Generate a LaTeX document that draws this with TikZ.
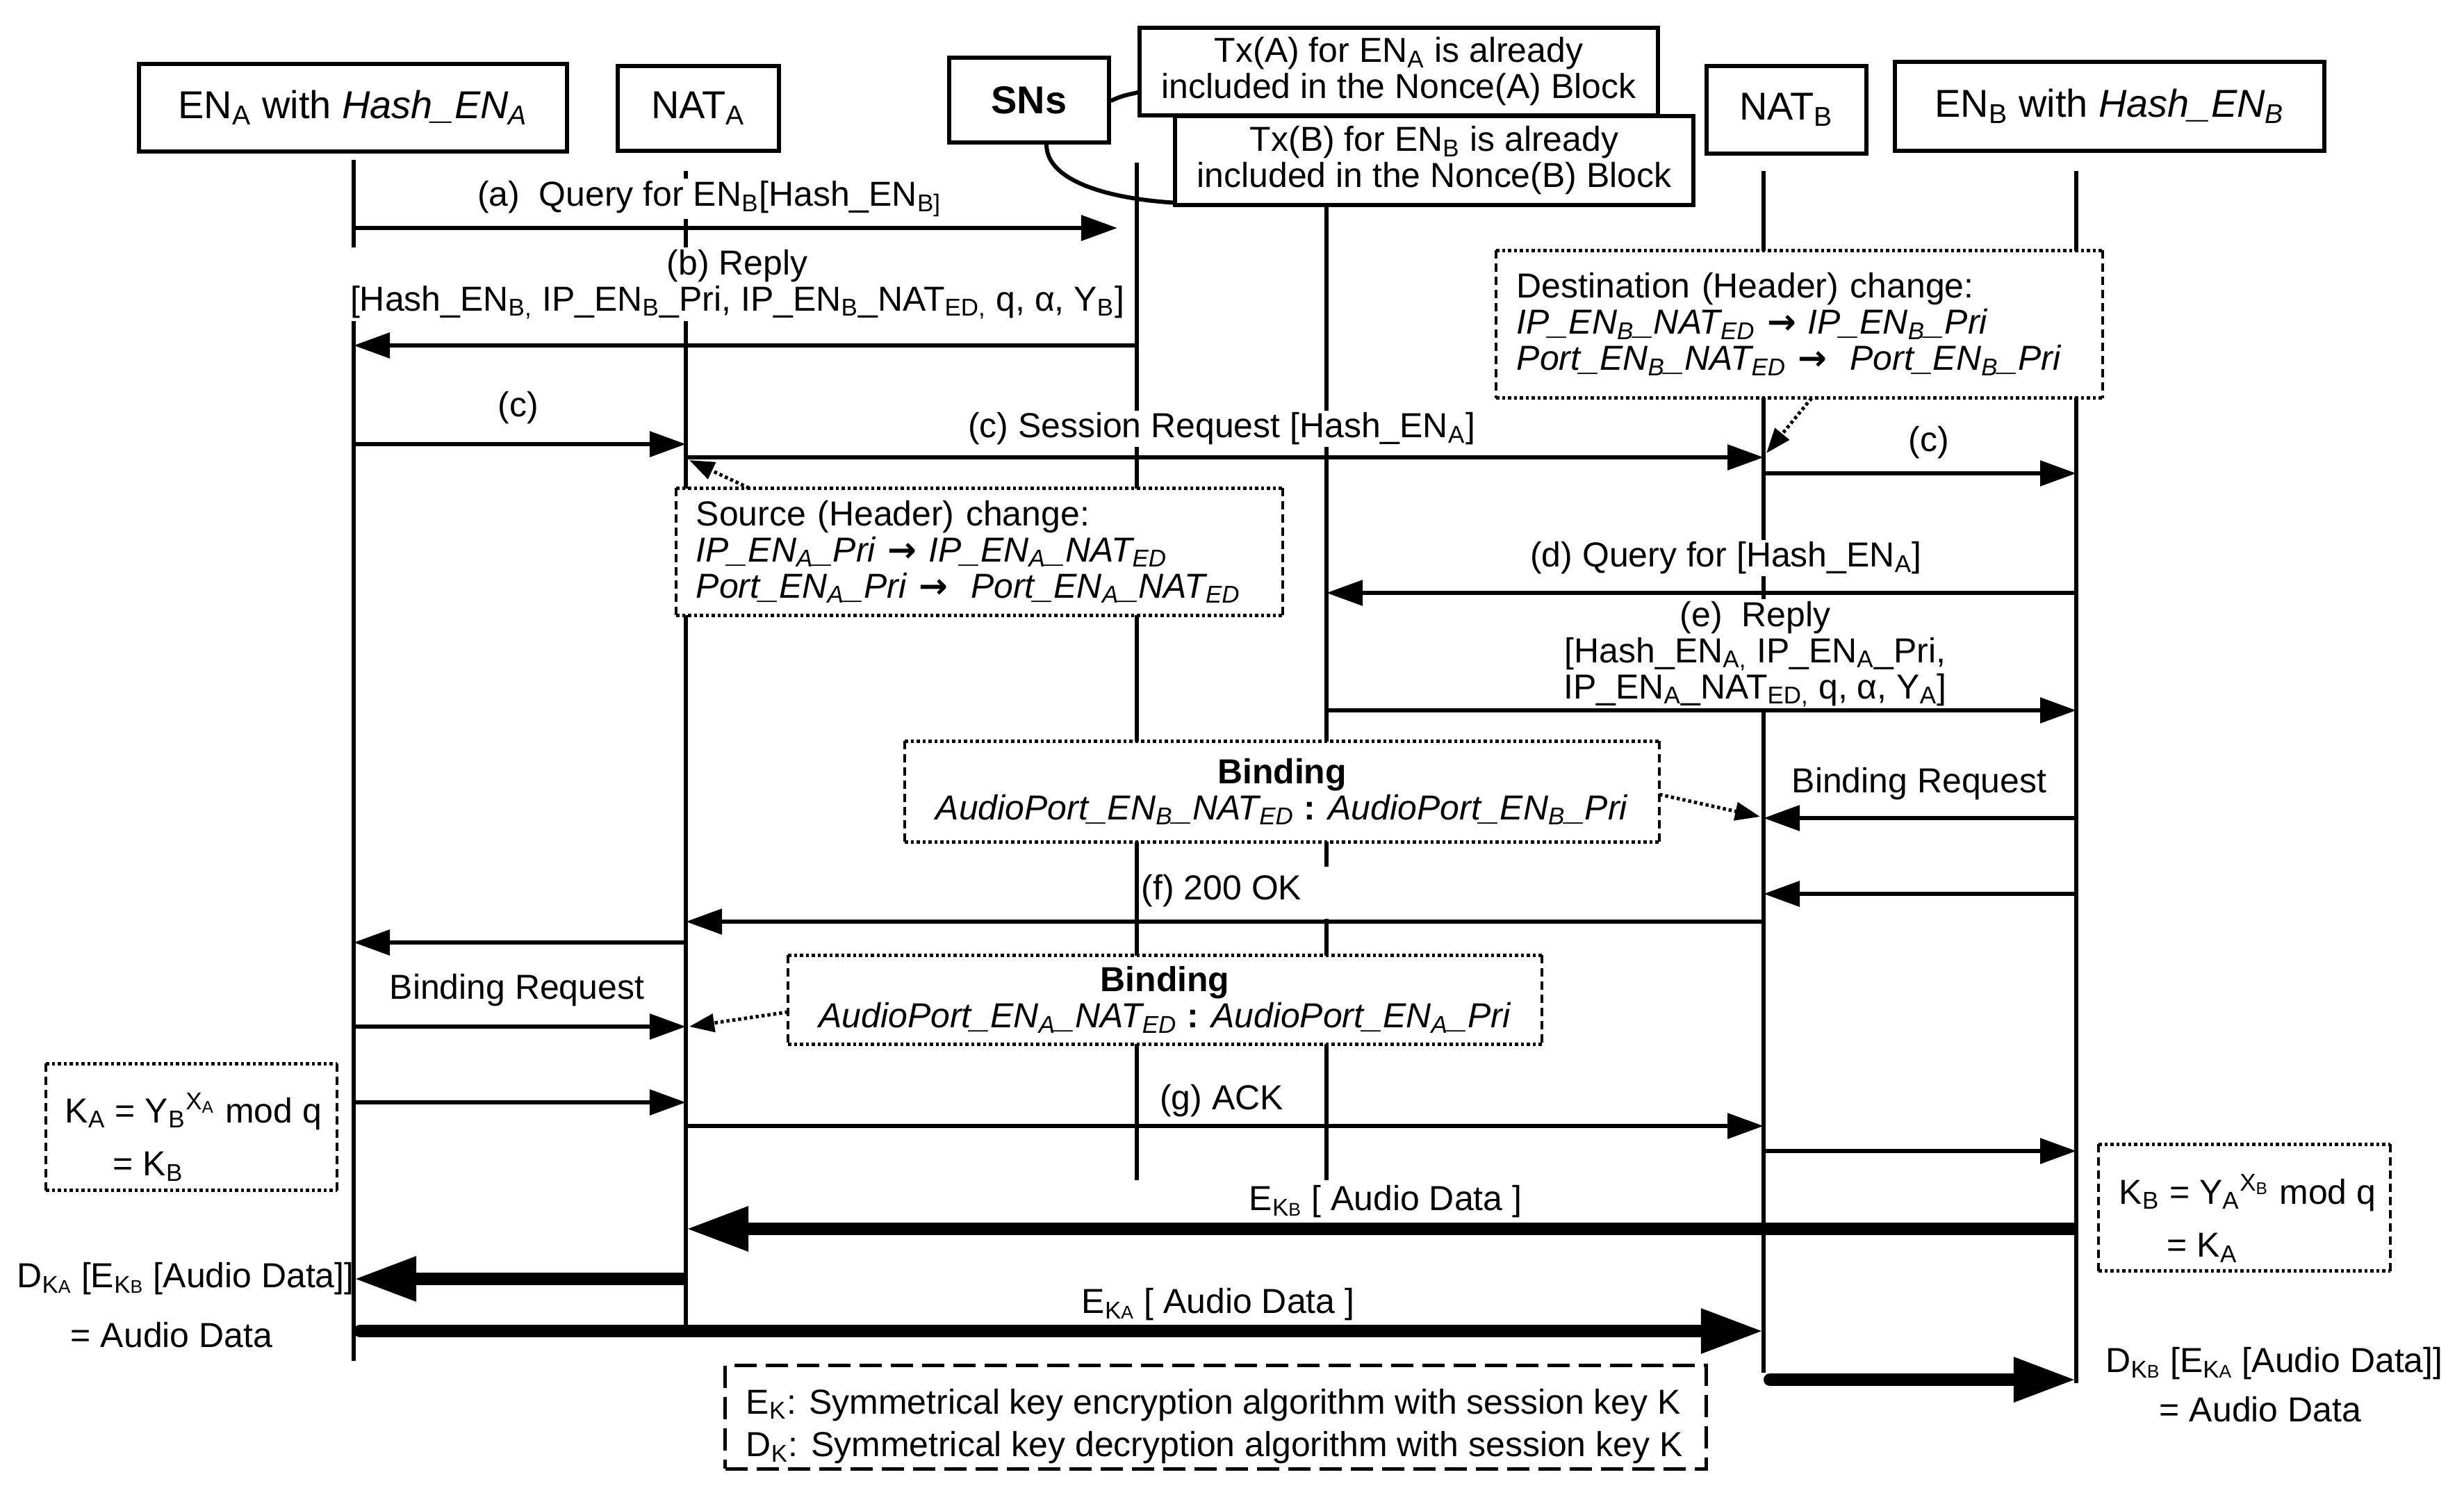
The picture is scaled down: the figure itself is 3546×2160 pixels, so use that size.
\documentclass[tikz,border=0pt]{standalone}
\usepackage{fontspec}
\setmainfont{Liberation Sans}
\newfontfamily\djv{DejaVu Sans}
\usetikzlibrary{arrows.meta,calc}
\newcommand\sbs[1]{\textsubscript{#1}}
\newcommand\sps[1]{\textsuperscript{#1}}
\newcommand\KK[1]{\textsubscript{K{\fontsize{7.5}{7.5}\selectfont #1}}}
\newcommand\rar{{\upshape\djv\bfseries →}}
\newcommand\mixbox[1]{%
  \draw[dotl] (#1.north west) -- (#1.north east) (#1.south west) -- (#1.south east);
  \draw[dashl] (#1.north west) -- (#1.south west) (#1.north east) -- (#1.south east);}
\begin{document}
\begin{tikzpicture}[x=0.01cm,y=-0.01cm,
  every node/.style={font=\fontsize{14.2}{14.8}\selectfont},
  hbox/.style={draw, line width=0.06cm, inner sep=0pt, fill=white, font=\fontsize{15.9}{17}\selectfont},
  tbox/.style={draw, line width=0.06cm, inner sep=0pt, fill=white, align=center},
  mbox/.style={fill=white, inner sep=0pt},
  lab/.style={fill=white, inner sep=0.03cm, align=center},
  txt/.style={inner sep=0pt},
  life/.style={line width=0.06cm},
  arr/.style={line width=0.06cm, -{Triangle[length=0.52cm,width=0.36cm]}},
  thk/.style={line width=0.18cm, -{Triangle[length=0.9cm,width=0.6cm]}},
  dota/.style={line width=0.05cm, dash pattern=on 0.045cm off 0.04cm, -{Triangle[length=0.36cm,width=0.26cm]}},
  dotl/.style={line width=0.05cm, dash pattern=on 0.045cm off 0.04cm},
  dashl/.style={line width=0.04cm, dash pattern=on 0.12cm off 0.07cm},
  legl/.style={line width=0.05cm, dash pattern=on 0.32cm off 0.13cm}]
\useasboundingbox (0,0) rectangle (3546,2160);

% lifeline coordinates
\coordinate (LA) at (509,230);  \coordinate (LAe) at (509,1958);
\coordinate (LN) at (987,246);  \coordinate (LNe) at (987,1908);
\coordinate (LS) at (1636,234); \coordinate (LSe) at (1636,1698);
\coordinate (LT) at (1909,295); \coordinate (LTe) at (1909,1698);
\coordinate (LM) at (2538,246); \coordinate (LMe) at (2538,1975);
\coordinate (LB) at (2988,246); \coordinate (LBe) at (2988,1990);

\draw[life] (LA) -- (LAe);
\draw[life] (LN) -- (LNe);
\draw[life] (LS) -- (LSe);
\draw[life] (LT) -- (LT |- 0,1247) (LT |- 0,1322) -- (LTe);
\draw[life] (LM) -- (LMe);
\draw[life] (LB) -- (LBe);

% header boxes
\node[hbox, minimum width=6.16cm, minimum height=1.26cm] (ENA) at (508,155) {EN\sbs{A} with \textit{Hash\_EN\sbs{A}}};
\node[hbox, minimum width=2.31cm, minimum height=1.21cm] (NATA) at (1005,156) {NAT\sbs{A}};
\node[hbox, minimum width=2.29cm, minimum height=1.22cm, font=\fontsize{15.9}{17}\selectfont\bfseries] (SNs) at (1481,144) {SNs};
\node[tbox, minimum width=7.45cm, minimum height=1.26cm] (TxA) at (2013,103) {Tx(A) for EN\sbs{A} is already\\included in the Nonce(A) Block};
\node[tbox, minimum width=7.45cm, minimum height=1.27cm] (TxB) at (2064,231) {Tx(B) for EN\sbs{B} is already\\included in the Nonce(B) Block};
\node[hbox, minimum width=2.29cm, minimum height=1.26cm] (NATB) at (2571,158) {NAT\sbs{B}};
\node[hbox, minimum width=6.17cm, minimum height=1.27cm] (ENB) at (3036,153) {EN\sbs{B} with \textit{Hash\_EN\sbs{B}}};

% SNs connectors
\draw[line width=0.06cm] (SNs.east |- 0,145) .. controls (1615,138) .. (TxA.west |- 0,133);
\draw[line width=0.06cm] ($(SNs.south)+(25,0)$) .. controls (1506,262) and (1600,286) .. ($(TxB.south west)+(0,-6)$);

% annotation boxes
\node[mbox, minimum width=8.71cm, minimum height=1.82cm, text width=8.15cm, align=left] (src) at (1409.5,794)
 {Source (Header) change:\\\textit{IP\_EN\sbs{A}\_Pri} \rar{} \textit{IP\_EN\sbs{A}\_NAT\sbs{ED}}\\\textit{Port\_EN\sbs{A}\_Pri} \rar{}\ \ \textit{Port\_EN\sbs{A}\_NAT\sbs{ED}}};
\mixbox{src}
\node[mbox, minimum width=8.71cm, minimum height=2.11cm, text width=8.13cm, align=left] (dst) at (2589.5,466.5)
 {Destination (Header) change:\\\textit{IP\_EN\sbs{B}\_NAT\sbs{ED}} \rar{} \textit{IP\_EN\sbs{B}\_Pri}\\\textit{Port\_EN\sbs{B}\_NAT\sbs{ED}} \rar{}\ \ \textit{Port\_EN\sbs{B}\_Pri}};
\mixbox{dst}
\node[mbox, minimum width=10.84cm, minimum height=1.44cm, align=center] (bndB) at (1845,1139)
 {\textbf{Binding}\\\textit{AudioPort\_EN\sbs{B}\_NAT\sbs{ED}} \textbf{:} \textit{AudioPort\_EN\sbs{B}\_Pri}};
\mixbox{bndB}
\node[mbox, minimum width=10.83cm, minimum height=1.27cm, align=center] (bndA) at (1676.5,1438.5)
 {\textbf{Binding}\\\textit{AudioPort\_EN\sbs{A}\_NAT\sbs{ED}} \textbf{:} \textit{AudioPort\_EN\sbs{A}\_Pri}};
\mixbox{bndA}
\node[mbox, minimum width=4.17cm, minimum height=1.81cm] (kab) at (275.5,1621.5) {};
\mixbox{kab}
\node[txt, anchor=west] (ka1) at (93,1599) {K\sbs{A} = Y\sbs{B}\sps{X\textsubscript{A}} mod q};
\node[txt, anchor=west] (ka2) at (162,1678) {= K\sbs{B}};
\node[mbox, minimum width=4.18cm, minimum height=1.81cm] (kbb) at (3230,1737.5) {};
\mixbox{kbb}
\node[txt, anchor=west] (kb1) at (3049,1716) {K\sbs{B} = Y\sbs{A}\sps{X\textsubscript{B}} mod q};
\node[txt, anchor=west] (kb2) at (3118,1795) {= K\sbs{A}};
\node[draw, legl, fill=white, minimum width=14.11cm, minimum height=1.48cm, inner sep=0pt] (leg) at (1749.5,2039) {};
\node[txt, anchor=west, align=left, font=\fontsize{14.2}{17.6}\selectfont] (legt) at (1073,2052)
 {E\sbs{K}: Symmetrical key encryption algorithm with session key K\\D\sbs{K}: Symmetrical key decryption algorithm with session key K};

% message labels
\node[lab] (la) at (1021,286) {(a)\ \ Query for EN\sbs{B}[Hash\_EN\sbs{B]}};
\node[lab] (lb) at (1061,409) {(b) Reply\\{}[Hash\_EN\sbs{B,} IP\_EN\sbs{B}\_Pri, IP\_EN\sbs{B}\_NAT\sbs{ED,} q, α, Y\sbs{B}]};
\node[lab] (lc1) at (746,587) {(c)};
\node[lab] (lsr) at (1758,617) {(c) Session Request [Hash\_EN\sbs{A}]};
\node[lab] (lc2) at (2776,637) {(c)};
\node[lab] (ld) at (2484,803) {(d) Query for [Hash\_EN\sbs{A}]};
\node[lab] (le) at (2526,941) {(e)\ \ Reply\\{}[Hash\_EN\sbs{A,} IP\_EN\sbs{A}\_Pri,\\IP\_EN\sbs{A}\_NAT\sbs{ED,} q, α, Y\sbs{A}]};
\node[lab] (lbr1) at (2762,1128) {Binding Request};
\node[lab] (lf) at (1758,1282) {(f) 200 OK};
\node[lab] (lbr2) at (744,1425) {Binding Request};
\node[lab] (lg) at (1758,1584) {(g) ACK};
\node[lab] (lekb) at (1994,1729) {E\KK{B} [ Audio Data ]};
\node[lab] (leka) at (1753,1877) {E\KK{A} [ Audio Data ]};
\node[txt] (dka1) at (267,1840) {D\KK{A} [E\KK{B} [Audio Data]]};
\node[txt] (dka2) at (247,1921) {= Audio Data};
\node[txt] (dkb1) at (3273,1962) {D\KK{B} [E\KK{A} [Audio Data]]};
\node[txt] (dkb2) at (3253,2028) {= Audio Data};

% messages
\draw[arr, shorten >=0.28cm] (LA |- 0,328) -- (LS |- 0,328);
\draw[arr] (LS |- 0,497) -- (LA |- 0,497);
\draw[arr] (LA |- 0,639) -- (LN |- 0,639);
\draw[arr] (LN |- 0,658) -- (LM |- 0,658);
\draw[arr] (LM |- 0,681) -- (LB |- 0,681);
\draw[arr] (LB |- 0,853) -- (LT |- 0,853);
\draw[arr] (LT |- 0,1022) -- (LB |- 0,1022);
\draw[arr] (LB |- 0,1177) -- (LM |- 0,1177);
\draw[arr] (LB |- 0,1286) -- (LM |- 0,1286);
\draw[arr] (LM |- 0,1326) -- (LN |- 0,1326);
\draw[arr] (LN |- 0,1356) -- (LA |- 0,1356);
\draw[arr] (LA |- 0,1477) -- (LN |- 0,1477);
\draw[arr] (LA |- 0,1586) -- (LN |- 0,1586);
\draw[arr] (LN |- 0,1620) -- (LM |- 0,1620);
\draw[arr] (LM |- 0,1656) -- (LB |- 0,1656);
\draw[thk] (LB |- 0,1768) -- (LN |- 0,1768);
\draw[thk] (LN |- 0,1840) -- (LA |- 0,1840);
\draw[thk, line cap=round] ($(LA |- 0,1915)+(9,0)$) -- (LM |- 0,1915);
\draw[thk, line cap=round] ($(LM |- 0,1985)+(9,0)$) -- (LB |- 0,1985);

% dotted pointers
\draw[dota] ($(src.north west)+(105,0)$) -- ($(LN |- 0,662)+(5,0)$);
\draw[dota] ($(dst.south west)+(454,0)$) -- ($(LM |- 0,652)+(4,0)$);
\draw[dota] (bndB.east |- 0,1143) -- ($(LM |- 0,1175)+(-5,0)$);
\draw[dota] (bndA.west |- 0,1456) -- ($(LN |- 0,1477)+(5,0)$);
\end{tikzpicture}
\end{document}
